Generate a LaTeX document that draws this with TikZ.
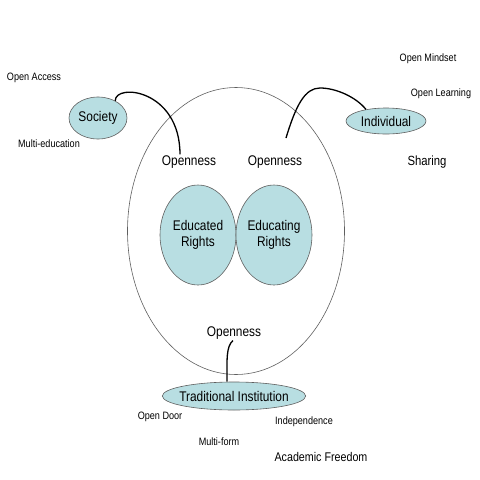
\documentclass[tikz,border=0pt]{standalone}
\usepackage{fontspec}
\setmainfont{Liberation Sans}[FakeStretch=0.85]
\usepackage{tikz}
\usetikzlibrary{shapes}
\definecolor{bubblefill}{RGB}{184,222,226}
\definecolor{rimgray}{RGB}{95,95,95}

\tikzset{
  bubble/.style={ellipse, draw=rimgray, line width=0.6pt, fill=bubblefill, inner sep=0pt},
  bigtext/.style={font=\fontsize{14}{16}\selectfont, inner sep=1pt},
  smalltext/.style={font=\fontsize{10.7}{12}\selectfont, inner sep=1pt},
  link/.style={line width=1.3pt, black}
}

\begin{document}
\begin{tikzpicture}[x=1pt,y=-1pt]
        \useasboundingbox (0,0) rectangle (480,480);

        % Big circle
        \node[ellipse, draw=rimgray, line width=0.6pt, minimum width=217pt, minimum height=287pt, inner sep=0pt] (whole) at (236,231) {};

        % Rights
        \node[bubble, bigtext, align=center, minimum width=76pt, minimum height=100pt, inner xsep=-1pt] (edd) at (198,235) {Educated\\Rights};
        \node[bubble, bigtext, align=center, minimum width=76pt, minimum height=100pt, inner xsep=-1pt] (edg) at (274,235) {Educating\\Rights};

        % Openness
        \node[bigtext] (opL) at (189,162) {Openness};
        \node[bigtext] (opR) at (275,162) {Openness};
        \node[bigtext] (opB) at (234,333) {Openness};

        % Society (left)
        \node[bubble, bigtext, minimum width=58pt, minimum height=42pt] (soc) at (98,118) {Society};
        \node[smalltext] (oac) at (34,78) {Open Access};
        \node[smalltext] (mul) at (49,144) {Multi-education};

        % Individual (right)
        \node[bubble, bigtext, minimum width=80pt, minimum height=26pt] (ind) at (386,121) {Individual};
        \node[smalltext] (omi) at (428,59) {Open Mindset};
        \node[smalltext] (ole) at (441,94) {Open Learning};
        \node[bigtext, font=\fontsize{13.3}{15}\selectfont] (sha) at (427,162) {Sharing};

        % Traditional Institution (bottom)
        \node[bubble, bigtext, minimum width=140pt, minimum height=28pt, inner xsep=-4pt] (trad) at (234,396) {Traditional Institution};
        \node[smalltext] (odo) at (160,417) {Open Door};
        \node[smalltext] (ind2) at (304,422) {Independence};
        \node[smalltext] (mfo) at (219,442) {Multi-form};
        \node[bigtext, font=\fontsize{12.6}{15}\selectfont] (aca) at (321,457) {Academic Freedom};

        % Links
        \coordinate (indstart) at (286,138);
        \draw[link] (soc.45) .. controls +(0,-18) and +(0,-65) .. ([xshift=-9pt]opL.north);
        \draw[link] (indstart) .. controls (296,105) and (305,88) .. (320,88) .. controls (336,88) and (356,97) .. (ind.150);
        \draw[link] ([xshift=-1pt]opB.south) .. controls +(-7,6) and +(0,-22) .. ([xshift=-7pt]trad.north);

    \end{tikzpicture}
\end{document}
